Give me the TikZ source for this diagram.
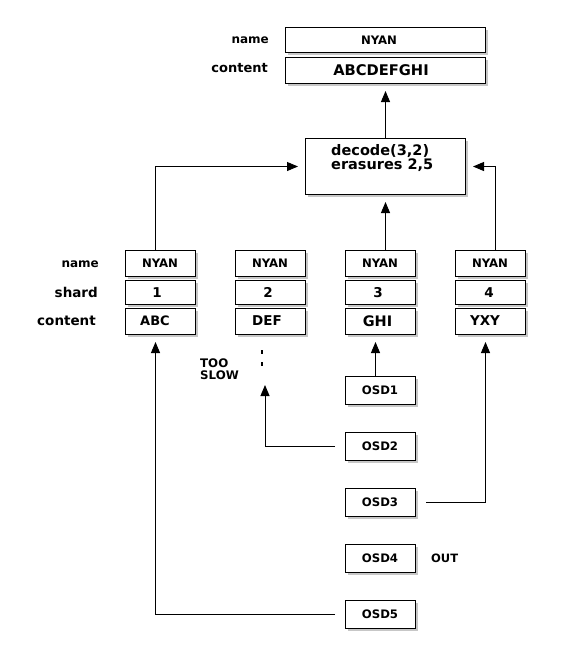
\documentclass[tikz,border=0pt]{standalone}
\usepackage{fontspec}
\setmainfont{DejaVu Sans}
\usetikzlibrary{arrows.meta,shadows}
\begin{document}
\begin{tikzpicture}[x=1pt,y=-1pt,
  every node/.style={inner sep=0pt},
  t/.style={font=\fontsize{#1}{#1}\selectfont\bfseries},
  t/.default=12,
  box/.style={draw,line width=1pt,fill=white,anchor=north west,
    drop shadow={shadow xshift=2.5pt,shadow yshift=-2.5pt,fill=black!40,opacity=0.55}},
  arr/.style={line width=1pt,-{Triangle[length=11pt,width=9pt]},shorten >=7pt},
  sbox/.style={box,minimum width=70pt,minimum height=#1},
]
\useasboundingbox[fill=white] (0,0) rectangle (564,659);
% top record
\node[box,minimum width=200pt,minimum height=25pt] (tname) at (285,27) {};
\node[box,minimum width=200pt,minimum height=26pt] (tcontent) at (285,57) {};
\node[t=11.7] (ttname) at (379,40) {NYAN};
\node[t=14.7] (ttcontent) at (381,70) {ABCDEFGHI};
\node[t,anchor=east] (ltname) at (269,40) {name};
\node[t=13,anchor=east] (ltcontent) at (268,68.5) {content};
% decode
\node[box,minimum width=160pt,minimum height=56pt] (decode) at (305,138) {};
\node[anchor=base west,align=left,font=\fontsize{14.5}{12.3}\selectfont\bfseries] (dec) at (331,169.5) {decode(3,2)\\erasures 2,5};
% shard boxes
\foreach \i/\x in {1/125,2/235,3/345,4/455}{
  \node[sbox=26pt] (n\i) at (\x,250) {};
  \node[sbox=24pt] (s\i) at (\x,280) {};
  \node[sbox=26pt] (c\i) at (\x,308) {};
  \node[t=11.7] (tn\i) at (\x+35,263.5) {NYAN};
}
\foreach \i/\x in {1/157,2/268,3/378,4/489}{
  \node[t=13.5] (ts\i) at (\x,292.5) {\i};
}
\node[t=13] (tc1) at (155,321) {ABC};
\node[t=13.5] (tc2) at (267,321) {DEF};
\node[t=14.5] (tc3) at (377.5,321) {GHI};
\node[t=13.5] (tc4) at (485,321) {YXY};
\node[t,anchor=east] (lname) at (99,264) {name};
\node[t=13.5,anchor=east] (lshard) at (98,292.5) {shard};
\node[t=13.5,anchor=east] (lcontent) at (96,321) {content};
% OSDs
\foreach \i/\y in {1/376,2/432,3/488,4/544,5/600}{
  \node[sbox=28pt] (osd\i) at (345,\y) {};
  \node[t=11.7] (tosd\i) at (380,\y+14) {OSD\i};
}
\node[t=11.5,anchor=west] (out) at (431,558) {OUT};
\node[t=11.8,anchor=west] (too) at (200,363) {TOO};
\node[t=11.8,anchor=west] (slow) at (200,375.5) {SLOW};
\fill (261,350) rectangle (263,354);
\fill (261,362) rectangle (263,366);
\coordinate (slowtip) at (265,385);
% connectors
\draw[arr] (decode.north) -- (tcontent.south);
\draw[arr] ([xshift=-5pt]n1.north) |- (decode.west);
\draw[arr] ([xshift=5pt]n3.north) -- (decode.south);
\draw[arr] ([xshift=5pt]n4.north) |- (decode.east);
\draw[arr] ([xshift=-5pt]osd1.north) -- ([xshift=-5pt]c3.south);
\draw[arr,shorten <=10pt,shorten >=0pt] (osd2.west) -| (slowtip);
\draw[arr,shorten <=10pt] (osd3.east) -| ([xshift=-5pt]c4.south);
\draw[arr,shorten <=10pt] (osd5.west) -| ([xshift=-5pt]c1.south);
\end{tikzpicture}
\end{document}
